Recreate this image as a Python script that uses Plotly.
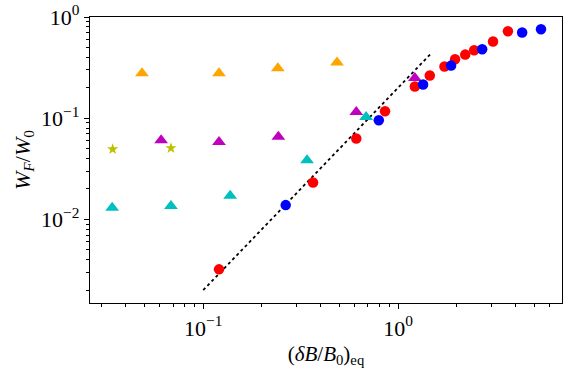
import plotly.graph_objects as go

red_x = [0.1205, 0.366, 0.610, 0.857, 1.219, 1.454, 1.73, 1.96, 2.21, 2.456, 3.07, 3.66]
red_y = [0.00321, 0.0232, 0.0630, 0.117, 0.2055, 0.264, 0.324, 0.382, 0.425, 0.469, 0.572, 0.722]
blue_x = [0.265, 0.796, 1.343, 1.87, 2.70, 4.33, 5.41]
blue_y = [0.01384, 0.0955, 0.215, 0.331, 0.480, 0.702, 0.756]
orange_x = [0.0485, 0.1205, 0.2415, 0.486]
orange_y = [0.278, 0.278, 0.312, 0.355]
magenta_x = [0.0608, 0.1205, 0.243, 0.610, 1.219]
magenta_y = [0.0607, 0.0583, 0.0654, 0.1154, 0.250]
cyan_x = [0.0341, 0.0683, 0.1375, 0.341, 0.685]
cyan_y = [0.0130, 0.0136, 0.0171, 0.0385, 0.103]
star_x = [0.0343, 0.0683]
star_y = [0.0494, 0.0506]
fit_x = [0.1, 1.48]
fit_y = [0.002, 0.438]

FONT = "Liberation Serif"

fig = go.Figure()
fig.add_trace(go.Scatter(x=fit_x, y=fit_y, mode="lines",
                         line=dict(color="black", width=1.8, dash="dot")))

def pts(x, y, color, symbol, size):
  fig.add_trace(go.Scatter(x=x, y=y, mode="markers",
                           marker=dict(color=color, symbol=symbol, size=size,
                                       line=dict(width=0))))

pts(orange_x, orange_y, "#FFA500", "triangle-up", 12)
pts(magenta_x, magenta_y, "#BF00BF", "triangle-up", 12)
pts(cyan_x, cyan_y, "#00BFBF", "triangle-up", 12)
pts(star_x, star_y, "#BFBF00", "star", 8.5)
pts(red_x, red_y, "#FF0000", "circle", 10.5)
pts(blue_x, blue_y, "#0000FF", "circle", 10.5)

axis_common = dict(type="log", showgrid=False, zeroline=False, showline=True,
                   linecolor="black", linewidth=1.3, mirror=True, automargin=False,
                   ticks="outside", ticklen=5, tickwidth=1, tickcolor="black",
                   tickfont=dict(family=FONT, size=22, color="black"),
                   minor=dict(ticks="outside", ticklen=3, tickwidth=0.8,
                              tickcolor="black", dtick="D1", showgrid=False))

fig.update_layout(
  width=571, height=372,
  margin=dict(l=90, r=9, t=17, b=69),
  plot_bgcolor="white", paper_bgcolor="white",
  showlegend=False,
  font=dict(family=FONT, color="black"),
  xaxis=dict(axis_common, range=[-1.581, 0.841],
             tickvals=[0.1, 1], ticktext=["10<sup>\u22121</sup>", "10<sup>0</sup>"],
             title=dict(text="(<i>\u03b4B</i>/<i>B</i><sub>0</sub>)<sub>eq</sub>",
                        font=dict(family=FONT, size=21), standoff=6)),
  yaxis=dict(axis_common, range=[-2.826, 0.0],
             tickvals=[0.01, 0.1, 1],
             ticktext=["10<sup>\u22122</sup>", "10<sup>\u22121</sup>", "10<sup>0</sup>"],
             title=dict(text="<i>W<sub>F</sub></i>/<i>W</i><sub>0</sub>",
                        font=dict(family=FONT, size=22), standoff=4)),
)

# drop the browser's default 8px body margin so the figure sits at the corner
fig.write_html("out.html", config={"displayModeBar": False},
               post_script="document.body.style.margin='0';")
